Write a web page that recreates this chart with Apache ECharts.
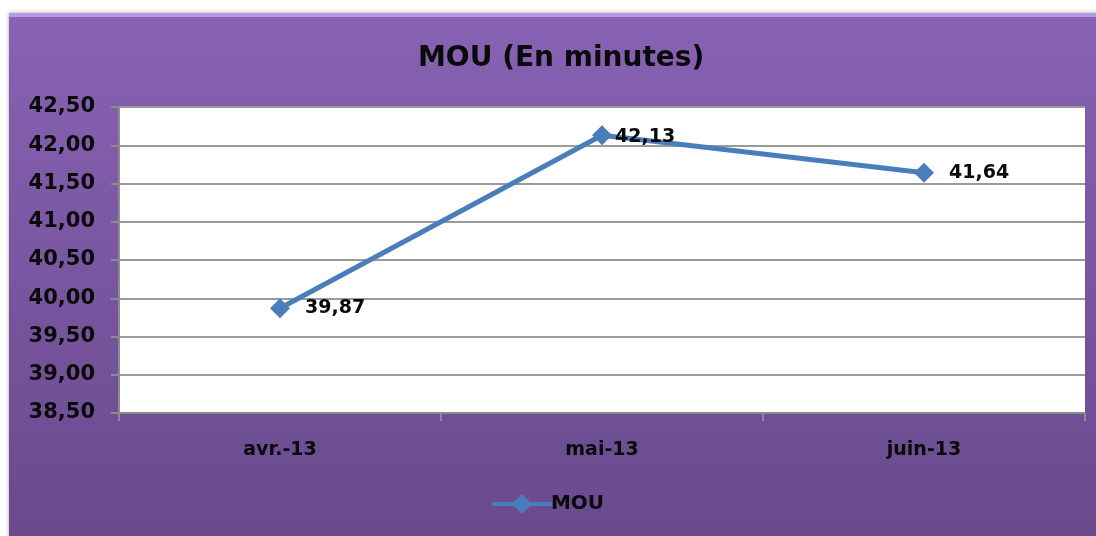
<!DOCTYPE html>
<html>
<head>
<meta charset="utf-8">
<script src="https://cdn.jsdelivr.net/npm/echarts@6/dist/echarts.min.js"></script>
<style>
  html, body { margin: 0; padding: 0; background: #fff; }
  #chart { width: 1096px; height: 536px; }
</style>
</head>
<body>
<div id="chart"></div>
<script>
// data
var months = ["avr.-13", "mai-13", "juin-13"];
var mouValues = [39.87, 42.13, 41.64];
var yTicks = [38.5, 39, 39.5, 40, 40.5, 41, 41.5, 42, 42.5];

function frNum(v) {
  return v.toFixed(2).replace(".", ",");
}

// label of the peak sits closer to its marker
var mouData = mouValues.map(function (v, i) {
  var d = { value: v };
  if (i === 1) d.label = { offset: [-12, 2] };
  return d;
});

var myChart = echarts.init(document.getElementById("chart"));

var option = {
  backgroundColor: "#ffffff",
  graphic: [
    {
      type: "rect",
      z: -10,
      shape: { x: 9, y: 13, width: 1100, height: 530 },
      style: {
        fill: new echarts.graphic.LinearGradient(0, 0, 0, 1, [
          { offset: 0, color: "#8862b4" },
          { offset: 1, color: "#684a8c" }
        ]),
        shadowBlur: 4,
        shadowColor: "rgba(0,0,0,0.35)"
      }
    },
    {
      type: "rect",
      z: -9,
      shape: { x: 9, y: 13, width: 1100, height: 4 },
      style: { fill: "#b79ae0" }
    }
  ],
  title: {
    text: "MOU (En minutes)",
    left: 413,
    top: 40,
    textStyle: {
      fontFamily: "DejaVu Sans",
      fontSize: 28,
      fontWeight: "bold",
      color: "#0a0a0a"
    }
  },
  legend: {
    bottom: 17,
    left: "center",
    itemWidth: 60,
    itemHeight: 20,
    itemGap: 4,
    icon: "path://M0,8L22,8L30,0L38,8L60,8L60,12L38,12L30,20L22,12L0,12Z",
    itemStyle: { color: "#4a7ebb" },
    textStyle: {
      fontFamily: "DejaVu Sans",
      fontSize: 20,
      fontWeight: "bold",
      color: "#0a0a0a",
      padding: [0, 0, 0, -6]
    },
    data: ["MOU"]
  },
  grid: {
    left: 119,
    right: 11,
    top: 107,
    bottom: 123,
    show: true,
    backgroundColor: "#ffffff",
    borderWidth: 0
  },
  xAxis: {
    type: "category",
    data: months,
    boundaryGap: true,
    axisLine: { lineStyle: { color: "#8c8c8c", width: 2 } },
    axisTick: { show: true, length: 8, lineStyle: { color: "#8c8c8c", width: 2 } },
    axisLabel: {
      margin: 28,
      fontFamily: "DejaVu Sans",
      fontSize: 19,
      fontWeight: "bold",
      color: "#0a0a0a"
    }
  },
  yAxis: {
    type: "value",
    min: yTicks[0],
    max: yTicks[yTicks.length - 1],
    interval: 0.5,
    axisLine: { show: true, lineStyle: { color: "#8c8c8c", width: 2 } },
    axisTick: { show: true, length: 8, lineStyle: { color: "#8c8c8c", width: 2 } },
    splitLine: { lineStyle: { color: "#9a9a9a", width: 2 } },
    axisLabel: {
      margin: 24,
      fontFamily: "DejaVu Sans",
      fontSize: 21,
      fontWeight: "bold",
      color: "#0a0a0a",
      formatter: function (v) { return frNum(v); }
    }
  },
  series: [
    {
      name: "MOU",
      type: "line",
      data: mouData,
      symbol: "diamond",
      symbolSize: 20,
      lineStyle: { color: "#4a7ebb", width: 5 },
      itemStyle: { color: "#4a7ebb" },
      label: {
        show: true,
        position: "right",
        distance: 15,
        fontFamily: "DejaVu Sans",
        fontSize: 19,
        fontWeight: "bold",
        color: "#0a0a0a",
        formatter: function (p) { return frNum(p.value); }
      }
    }
  ]
};

option && myChart.setOption(option);
</script>
</body>
</html>
